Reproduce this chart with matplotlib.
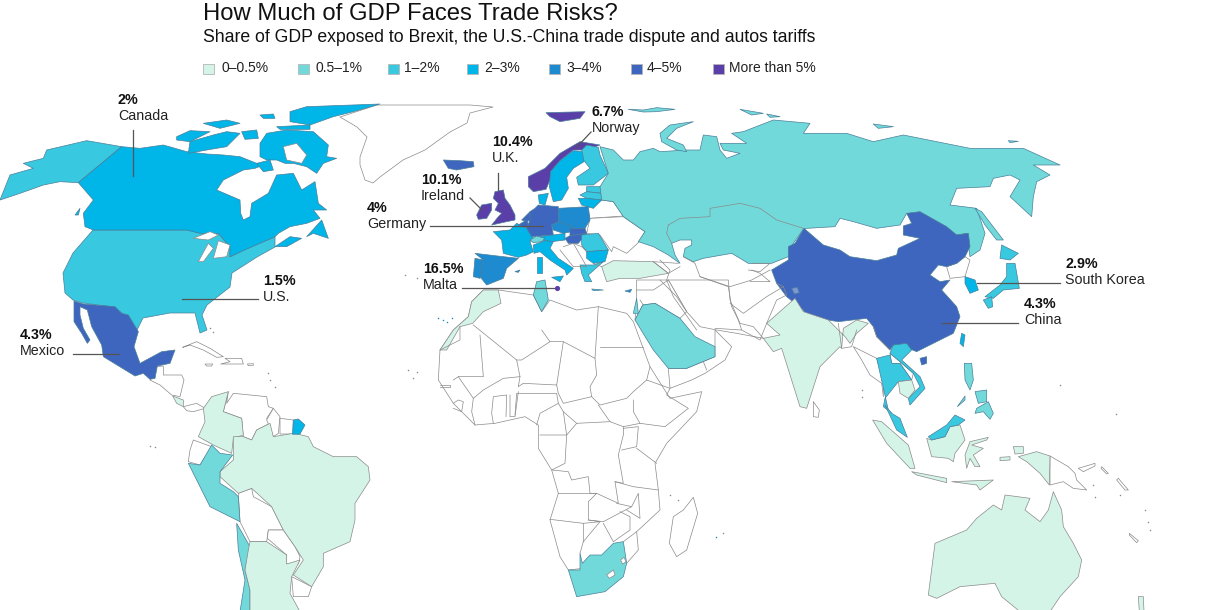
import matplotlib
matplotlib.use('Agg')
import matplotlib.pyplot as plt
from matplotlib.patches import Polygon, Rectangle

plt.rcParams['font.family'] = ['Liberation Sans', 'DejaVu Sans']

TITLE = 'How Much of GDP Faces Trade Risks?'
SUBTITLE = 'Share of GDP exposed to Brexit, the U.S.-China trade dispute and autos tariffs'
BIN_LABELS = ['0–0.5%', '0.5–1%', '1–2%', '2–3%', '3–4%', '4–5%', 'More than 5%']
BIN_EDGES = [0.5, 1, 2, 3, 4, 5]
BIN_COLORS = ['#D4F4E8', '#72D9DA', '#38C9E0', '#00B6E8', '#1E8BD0', '#3F66BE', '#5B3FA8']

# estimated share of GDP per country (None = no data, white)
SHARE = {
    'Canada': 2, 'US': 1.5, 'Mexico': 4.3, 'China': 4.3, 'Taiwan': 2.5, 'SouthKorea': 2.9, 'Japan': 1.7,
    'Russia': 0.8, 'India': 0.3, 'Turkey': 0.4, 'Saudi': 0.8, 'Morocco': 0.4, 'Tunisia': 0.8, 'SouthAfrica': 0.8,
    'Israel': 0.8, 'Norway': 6.7, 'UK': 10.4, 'Ireland': 10.1, 'Iceland': 4.5, 'Germany': 4, 'Malta': 16.5,
    'Sweden': 2.5, 'Finland': 1.5, 'Denmark': 2.5, 'Estonia': 1.5, 'Latvia': 1.5, 'Lithuania': 2.5,
    'Netherlands': 4.5, 'Belgium': 4.5, 'Poland': 3.5, 'Czechia': 3.5, 'Slovakia': 4.5, 'Hungary': 4.5,
    'Austria': 2.5, 'France': 2.5, 'Switzerland': 0.8, 'Spain': 3.5, 'Portugal': 3.5, 'Italy': 2.5,
    'Romania': 1.5, 'Bulgaria': 2.5, 'Greece': 1.5, 'Cyprus': 3.5, 'Thailand': 1.5, 'Vietnam': 1.5,
    'Cambodia': 0.3, 'Malaysia': 1.8, 'Philippines': 0.8, 'Indonesia': 0.3, 'Australia': 0.3, 'NewZealand': 0.3,
    'Brazil': 0.3, 'Colombia': 0.3, 'Peru': 0.8, 'Chile': 0.8, 'Argentina': 0.3, 'CostaRica': 0.3,
    'FrenchGuiana': 2.5,
}
ANNOTATIONS = [
    ('2%', 'Canada', 118, 100), ('1.5%', 'U.S.', 263, 281), ('4.3%', 'Mexico', 20, 335),
    ('10.4%', 'U.K.', 492, 142), ('6.7%', 'Norway', 592, 112), ('10.1%', 'Ireland', 421, 180),
    ('4%', 'Germany', 367, 208), ('16.5%', 'Malta', 423, 269), ('2.9%', 'South Korea', 1065, 264),
    ('4.3%', 'China', 1024, 304),
]
LEADERS = [[(133, 130), (133, 176)], [(182, 299), (258, 299)], [(73, 354), (119, 354)],
           [(430, 226), (543, 226)], [(462, 288), (557, 288)], [(470, 198), (482, 210)],
           [(498, 173), (498, 190)], [(591, 132), (577, 147)], [(977, 283), (1060, 283)],
           [(942, 323), (1018, 323)]]
LEGEND_SQ = [203, 298, 388, 467, 549, 631, 713]
LEGEND_TX = [221, 315, 404, 484, 566, 647, 729]

# coordinate frames of the traced outlines: (origin x, origin y, scale)
F = {'P': (0, 0, 1), 'A': (0, 0, 3), 'B': (360, 90, 3), 'C': (660, 100, 3), 'D': (0, 290, 3),
     'E': (420, 280, 3), 'F': (820, 330, 3), 'G': (470, 170, 3)}

SHAPES = [
 # --- white land
 ('Greenland','P',[(377,105),(420,105),(470,105),(493,107),(470,113),(467,123),(450,132),(425,150),(403,160),(380,177),(373,183),(365,180),(360,165),(360,157),(367,137),(357,127),(340,117)]),
 ('Cuba','D',[(548,172),(590,155),(630,175),(670,200),(650,202),(610,180),(570,165)]),
 ('Hispaniola','D',[(675,205),(725,205),(730,222),(695,222),(662,222),(690,215)]),
 ('Jamaica','D',[(615,222),(638,222),(635,228),(620,228)]),
 ('PuertoRico','D',[(742,222),(760,221),(760,226),(745,227)]),
 ('Guatemala','D',[(450,270),(470,230),(490,228),(490,255),(545,255),(552,270),(540,320),(515,315),(480,285)]),
 ('Panama','D',[(550,350),(590,340),(615,355),(580,365),(560,362)]),
 ('Venezuela','D',[(685,305),(680,340),(700,310),(800,320),(805,350),(820,355),(800,385),(810,400),(770,420),(755,450),(730,440),(725,385),(670,365)]),
 ('Guyana','D',[(820,355),(840,380),(835,430),(820,440),(800,390)]),
 ('Suriname','D',[(840,385),(880,390),(878,432),(840,432)]),
 ('Ecuador','D',[(570,480),(580,450),(635,470),(600,525),(565,515)]),
 ('Bolivia','D',[(715,610),(755,595),(760,620),(815,650),(850,720),(805,720),(800,755),(750,755),(720,695)]),
 ('Paraguay','D',[(805,720),(850,720),(885,770),(900,800),(895,822),(860,822),(860,795),(802,745)]),
 ('Uruguay','D',[(875,860),(935,890),(925,920),(880,920)]),
 ('Africa','E',[(60,210),(55,300),(100,370),(165,435),(225,430),(315,410),(355,435),(355,505),(395,570),(415,640),(390,720),(420,830),(445,870),(620,850),(655,810),(650,755),(720,690),(715,630),(705,550),(740,490),(830,395),(845,335),(750,355),(715,300),(690,260),(640,125),(620,100),(535,80),(470,90),(390,60),(365,95),(340,45),(235,30),(190,30),(155,65),(145,110),(100,150)]),
 ('Madagascar','E',[(820,652),(833,700),(800,810),(770,830),(748,790),(760,710),(790,690)]),
 ('Arabia','E',[(745,265),(750,325),(815,300),(855,280),(915,240),(935,200),(905,170),(885,150),(885,230),(800,265)]),
 ('Iran','E',[(800,95),(840,140),(890,150),(950,160),(1030,175),(1000,140),(960,130),(930,60),(925,0),(745,0)]),
 ('Levant','E',[(645,120),(668,75),(705,70),(780,115),(800,95),(745,0),(650,0),(650,55)]),
 ('Myanmar','F',[(100,50),(170,85),(190,150),(190,200),(185,160),(150,135),(125,90)]),
 ('Laos','F',[(210,70),(240,95),(280,130),(275,150),(240,100),(215,100)]),
 ('NKorea','C',[(890,490),(915,470),(930,480),(915,530),(870,535),(860,500)]),
 ('SriLanka','E',[(1180,365),(1198,390),(1195,412),(1180,410)]),
 ('PNG','F',[(690,378),(745,410),(765,430),(770,450),(800,480),(760,475),(730,455),(690,465)]),
 ('NewBritain','F',[(775,415),(825,400),(825,408),(790,425)]),
 ('Solomon1','F',[(845,410),(865,430),(860,432),(843,415)]),
 ('Solomon2','F',[(895,445),(925,480),(915,480),(890,450)]),
 ('NewCaledonia','F',[(928,610),(955,632),(950,638),(928,615)]),
 ('Belarus','B',[(725,330),(760,335),(790,378),(690,385),(680,350)]),
 ('Ukraine','B',[(690,385),(790,380),(855,425),(835,458),(800,490),(760,470),(755,485),(720,435),(680,430)]),
 # --- coloured countries
 ('US','P',[(93,230),(187,230),(200,233),(218,233),(230,247),(230,257),(248,248),(275,237),(275,247),(257,257),(232,273),(230,287),(207,305),(202,315),(207,330),(200,333),(195,313),(170,313),(143,318),(137,330),(122,313),(113,307),(83,303),(73,300),(65,293),(63,273),(73,253)]),
 ('Alaska:US','A',[(365,440),(260,422),(140,450),(130,475),(70,490),(100,505),(30,525),(20,550),(0,600),(60,580),(130,555),(180,545),(235,548)]),
 ('Canada','A',[(365,440),(420,445),(490,435),(560,455),(620,462),(670,465),(720,470),(770,490),(790,495),(765,505),(730,510),(670,540),(650,570),(720,600),(722,640),(730,660),(750,650),(755,610),(805,580),(830,525),(880,520),(905,570),(945,545),(955,610),(980,630),(940,630),(960,655),(920,670),(870,680),(835,700),(825,710),(745,745),(690,770),(690,740),(655,700),(600,700),(560,690),(280,690),(255,680),(250,640),(280,600),(235,548)]),
 ('Canada','A',[(530,410),(570,392),(630,395),(610,405),(570,425),(530,420)]),
 ('Canada','A',[(570,425),(640,405),(680,395),(720,400),(700,420),(680,440),(620,450),(565,460)]),
 ('Canada','A',[(780,430),(800,400),(860,390),(940,395),(985,435),(980,470),(1010,475),(970,490),(950,520),(920,500),(880,490),(855,490),(830,480),(800,480),(780,470)]),
 ('Canada','A',[(870,335),(920,320),(1140,312),(1060,335),(1000,350),(930,375),(870,365)]),
 ('Canada','A',[(610,370),(680,360),(720,370),(660,385)]),
 ('Canada','A',[(780,345),(820,342),(825,355),(790,355)]),
 ('Canada','A',[(830,380),(930,375),(930,388),(840,388)]),
 ('Canada','A',[(725,395),(770,390),(775,415),(735,418)]),
 ('Canada','A',[(770,490),(810,480),(820,510),(790,515)]),
 ('Canada','A',[(870,710),(905,715),(860,740),(825,740)]),
 ('Canada','A',[(920,710),(965,660),(985,715),(940,700)]),
 ('Canada','A',[(225,645),(240,625),(235,645)]),
 ('Mexico','D',[(222,33),(250,42),(345,50),(365,70),(385,75),(415,125),(402,170),(420,220),(485,185),(525,180),(510,220),(472,228),(465,265),(450,268),(430,250),(405,258),(310,200),(305,165),(275,110),(262,60),(240,50),(240,75),(250,115),(270,150),(262,160),(245,130),(222,95)]),
 ('CostaRica','D',[(518,318),(550,330),(550,350),(530,340)]),
 ('Colombia','D',[(610,355),(635,320),(685,305),(670,365),(725,385),(730,435),(700,445),(695,490),(640,465),(595,440),(615,395)]),
 ('Brazil','D',[(700,440),(730,440),(755,450),(770,420),(810,400),(820,440),(880,430),(905,435),(925,440),(940,470),(1000,500),(1070,500),(1105,530),(1110,570),(1065,640),(1065,690),(1050,755),(970,790),(970,830),(935,890),(880,855),(910,810),(885,770),(850,720),(815,650),(755,595),(715,610),(660,560),(660,545),(700,510)]),
 ('Peru','D',[(565,520),(600,525),(635,465),(660,490),(698,495),(660,545),(660,580),(700,605),(715,620),(720,695),(630,650),(590,570)]),
 ('Chile','D',[(710,700),(750,770),(735,840),(750,900),(750,965),(720,965),(735,870),(715,780)]),
 ('Argentina','D',[(750,755),(800,755),(860,795),(860,822),(900,810),(875,860),(870,910),(900,965),(750,965),(750,900),(735,840),(745,780)]),
 ('FrenchGuiana','D',[(880,390),(895,387),(915,405),(900,432),(878,433)]),
 ('Iceland','B',[(250,210),(300,212),(340,215),(342,230),(290,240),(265,235)]),
 ('Norway','B',[(558,68),(675,65),(660,85),(600,95),(570,80)]),
 ('Norway','B',[(505,260),(555,235),(600,190),(660,155),(720,165),(680,180),(640,180),(600,212),(572,245),(570,270),(558,298),(520,305),(505,290)]),
 ('Sweden','B',[(572,245),(600,212),(640,182),(668,185),(672,215),(640,235),(620,262),(625,295),(605,330),(580,335),(568,290)]),
 ('Finland','B',[(665,180),(680,165),(715,172),(720,195),(745,250),(700,285),(655,285),(650,262),(690,235),(672,212)]),
 ('Denmark','G',[(205,75),(235,70),(225,105),(208,100)]),
 ('Estonia','B',[(680,290),(720,290),(725,310),(680,305)]),
 ('Latvia','B',[(660,315),(680,305),(725,310),(725,330),(680,325)]),
 ('Lithuania','B',[(655,325),(680,325),(725,330),(700,355),(665,345)]),
 ('UK','G',[(75,65),(100,60),(105,85),(120,105),(135,135),(135,150),(110,155),(65,165),(85,140),(95,130),(75,120),(85,100),(70,85)]),
 ('Ireland','G',[(20,135),(35,105),(65,100),(65,120),(50,145),(25,148)]),
 ('France','G',[(70,185),(120,180),(140,160),(175,178),(190,205),(180,215),(190,245),(170,255),(145,262),(100,250),(95,210)]),
 ('Netherlands','G',[(155,150),(180,125),(182,150),(170,155)]),
 ('Belgium','G',[(145,165),(170,150),(180,175),(160,170)]),
 ('Germany','G',[(195,115),(205,105),(265,110),(265,155),(245,165),(250,195),(185,200),(170,175),(180,150),(180,125)]),
 ('Poland','G',[(265,115),(355,110),(360,150),(345,175),(300,175),(265,155)]),
 ('Czechia','G',[(245,165),(265,155),(310,170),(305,185),(280,190),(250,180)]),
 ('Slovakia','G',[(300,175),(345,175),(350,190),(300,197)]),
 ('Hungary','G',[(285,205),(300,197),(350,190),(325,220),(295,220)]),
 ('Austria','G',[(205,200),(250,195),(285,190),(285,210),(245,215),(215,210)]),
 ('Switzerland','G',[(180,210),(200,198),(225,205),(215,215),(190,218)]),
 ('Spain','G',[(15,250),(100,260),(145,265),(110,295),(100,325),(50,345),(30,320),(40,270)]),
 ('Portugal','G',[(15,265),(40,270),(30,325),(10,320)]),
 ('Italy','G',[(190,225),(225,212),(250,215),(240,235),(265,265),(310,295),(290,315),(285,300),(240,270),(210,245),(192,250)]),
 ('Italy','G',[(245,322),(280,318),(270,335)]),
 ('Italy','G',[(202,260),(216,260),(216,310),(202,310)]),
 ('Romania','G',[(335,195),(385,190),(415,240),(350,245),(335,225)]),
 ('Bulgaria','G',[(350,245),(415,240),(405,275),(370,280),(350,265)]),
 ('Greece','G',[(330,285),(370,285),(400,275),(355,315),(365,335),(345,335),(335,310)]),
 ('Cyprus','B',[(795,603),(815,598),(810,607)]),
 ('Greece','B',[(695,597),(730,600),(700,602)]),
 ('Spain','B',[(465,545),(480,540),(475,547)]),
 ('Turkey','B',[(725,530),(760,512),(880,515),(925,550),(840,565),(780,565),(740,575)]),
 ('Morocco','E',[(190,30),(235,30),(243,70),(190,95),(158,130),(120,140),(80,210),(60,210),(100,150),(145,110),(155,65)]),
 ('Tunisia','E',[(350,5),(375,0),(385,60),(365,95),(340,45)]),
 ('Israel','E',[(640,100),(650,55),(655,100)]),
 ('Saudi','E',[(668,75),(705,70),(780,115),(825,170),(885,200),(885,230),(800,265),(745,265),(700,210),(645,120)]),
 ('SouthAfrica','E',[(480,820),(487,850),(510,825),(545,825),(580,790),(610,785),(620,850),(610,890),(555,935),(470,950),(445,870),(480,870)]),
 ('Russia','C',[(-180,140),(-140,150),(-110,180),(-80,180),(-60,155),(-20,145),(0,155),(80,150),(120,150),(130,105),(170,110),(180,150),(200,175),(240,160),(190,150),(180,130),(260,130),(215,100),(250,95),(340,60),(450,70),(430,100),(560,100),(640,125),(730,105),(930,145),(1090,145),(1200,195),(1120,195),(1170,225),(1130,245),(1120,290),(1115,350),(1050,290),(1080,240),(1050,225),(1000,235),(990,260),(890,265),(870,315),(950,325),(975,400),(960,450),(930,470),(920,400),(890,405),(780,340),(740,340),(720,375),(650,385),(580,365),(540,355),(525,380),(440,385),(432,385),(400,430),(385,470),(335,490),(265,490),(215,460),(130,475),(100,485),(70,470),(75,445),(95,435),(95,420),(60,420),(35,430),(45,465),(60,490),(25,465),(-20,440),(-65,425),(-45,395),(-110,350),(-140,305),(-175,300),(-180,260),(-155,220)]),
 ('Russia','C',[(945,325),(965,335),(1030,420),(1010,420),(975,375)]),
 ('Russia','C',[(0,100),(30,75),(100,65),(50,85),(20,115),(70,135),(80,155),(50,150),(5,125)]),
 ('Russia','C',[(240,28),(310,40),(275,45)]),
 ('Russia','C',[(320,42),(360,50),(330,52)]),
 ('Russia','C',[(640,72),(700,80),(655,85)]),
 ('Russia','C',[(1045,122),(1075,124),(1050,128)]),
 ('Russia','B',[(805,58),(850,60),(890,53),(945,58),(890,65),(850,66)]),
 ('China','C',[(335,510),(385,480),(385,440),(405,430),(432,385),(490,435),(540,450),(570,470),(650,482),(710,465),(715,445),(780,415),(730,405),(730,378),(755,370),(740,340),(780,335),(860,380),(890,405),(925,400),(930,440),(915,470),(890,490),(860,500),(835,495),(810,525),(840,545),(870,540),(845,570),(890,620),(900,650),(880,700),(790,745),(770,755),(745,745),(700,735),(690,750),(650,710),(640,680),(620,655),(535,665),(440,650),(430,630),(380,590),(350,550)]),
 ('China','C',[(780,775),(800,770),(800,790),(785,795)]),
 ('AksaiChin','C',[(395,565),(412,562),(418,578),(403,582)]),
 ('Taiwan','C',[(905,700),(915,705),(910,740),(900,730)]),
 ('SouthKorea','C',[(915,530),(945,540),(955,570),(930,580),(915,550)]),
 ('Japan','C',[(1040,490),(1065,490),(1078,565),(1030,570),(1000,595),(975,590),(1020,555),(1040,530)]),
 ('Japan','C',[(970,600),(995,590),(998,620),(985,625)]),
 ('Japan','C',[(1025,435),(1075,460),(1050,480),(1020,475)]),
 ('India','E',[(1125,55),(1040,130),(1080,165),(1030,175),(1060,215),(1085,205),(1140,380),(1160,385),(1200,260),(1260,200),(1265,205),(1270,145),(1310,120),(1345,130),(1310,160),(1290,190),(1275,170),(1225,120),(1150,95)]),
 ('Thailand','F',[(170,85),(210,75),(215,100),(240,100),(275,150),(235,155),(215,180),(195,205),(190,230),(215,250),(205,240)]),
 ('Vietnam','F',[(220,45),(260,40),(275,60),(245,90),(300,140),(315,175),(270,225),(265,205),(300,170),(280,130),(240,95),(210,70)]),
 ('Cambodia','F',[(235,155),(275,150),(285,180),(265,205),(240,190)]),
 ('Malaysia','F',[(195,225),(215,250),(240,265),(262,322),(230,300)]),
 ('Indonesia','F',[(320,325),(335,330),(375,320),(390,290),(420,285),(435,330),(405,370),(400,395),(385,385),(335,380)]),
 ('Malaysia','F',[(325,320),(380,285),(405,255),(435,270),(415,285),(390,290),(375,320),(335,330)]),
 ('Philippines','F',[(433,100),(455,100),(460,150),(450,180),(435,150)]),
 ('Philippines','F',[(470,235),(505,215),(520,250),(510,268),(490,245),(465,250)]),
 ('Philippines','F',[(465,185),(500,180),(500,215),(475,220)]),
 ('Philippines','F',[(412,230),(435,198),(435,210)]),
 ('Indonesia','F',[(158,270),(185,275),(265,345),(285,415),(270,415),(200,340)]),
 ('Indonesia','F',[(275,425),(380,445),(380,458),(290,435)]),
 ('Indonesia','F',[(395,455),(520,450),(480,480),(470,465)]),
 ('Indonesia','F',[(435,375),(450,335),(505,322),(500,330),(455,345),(490,355),(460,375),(480,410),(465,410),(450,385),(440,415)]),
 ('Indonesia','F',[(595,380),(650,365),(690,378),(688,465),(660,430),(620,395)]),
 ('Indonesia','F',[(580,350),(610,350),(610,370),(585,372)]),
 ('Indonesia','F',[(540,382),(570,380),(570,390),(540,392)]),
 ('Australia','F',[(325,795),(345,640),(440,600),(470,565),(520,525),(545,540),(555,495),(630,505),(615,540),(660,575),(685,540),(700,485),(725,540),(730,590),(760,640),(785,690),(775,740),(720,800),(690,845),(600,845),(545,800),(525,760),(420,770),(350,805)]),
 ('NewZealand','F',[(955,800),(970,800),(972,845),(958,845)]),
 # --- holes and lakes
 ('Lake','A',[(580,715),(630,695),(655,705),(625,720)]),
 ('Lake','A',[(595,785),(625,730),(640,745),(610,785)]),
 ('Lake','A',[(655,722),(690,735),(680,770),(640,775)]),
 ('Lake','A',[(850,440),(890,430),(920,465),(905,490),(860,480)]),
 ('Lake','E',[(560,885),(580,870),(585,885),(568,895)]),
 ('Lake','E',[(602,840),(612,832),(618,845),(608,852)]),
]

BORDERS = [
 ('E',[(160,135),(290,240),(305,240),(390,185),(365,150)]),
 ('E',[(120,140),(120,180),(60,210)]), ('E',[(180,165),(190,290),(115,290),(100,300)]),
 ('E',[(290,240),(300,290),(250,295),(190,330),(160,355),(115,290)]),
 ('E',[(300,290),(295,320),(310,310),(410,315),(430,185),(390,185)]),
 ('E',[(430,185),(525,235),(535,80)]), ('E',[(540,200),(670,200)]),
 ('E',[(525,235),(530,285),(510,320),(515,350),(430,370),(415,340),(410,315)]),
 ('E',[(515,350),(540,375),(620,355),(640,335),(680,300),(690,260)]),
 ('E',[(680,300),(750,325),(740,345),(805,385),(735,440),(660,430),(640,395),(640,360)]),
 ('E',[(535,375),(570,425),(610,440),(660,430)]), ('E',[(430,395),(470,430),(570,425)]),
 ('E',[(285,405),(290,340),(410,340),(415,370),(360,400),(350,435)]),
 ('E',[(415,370),(430,395),(440,465),(360,465)]),
 ('E',[(470,430),(440,465),(435,550),(395,570),(445,575),(455,600),(505,590),(510,640),(530,640),(595,670),(585,605),(610,610),(595,525),(610,465),(610,440)]),
 ('E',[(610,445),(655,440),(650,500),(605,510)]), ('E',[(650,505),(710,550)]),
 ('E',[(585,605),(640,620),(715,630)]),
 ('E',[(415,640),(530,640),(505,665),(505,720),(540,725),(490,730),(390,718)]),
 ('E',[(505,720),(550,725),(635,680),(590,670)]), ('E',[(635,680),(655,640),(660,715),(620,690)]),
 ('E',[(550,730),(580,785)]), ('E',[(580,785),(630,750),(630,710),(600,695)]),
 ('E',[(490,730),(490,785),(480,820)]), ('E',[(490,785),(540,725)]), ('E',[(610,785),(650,755)]),
 ('E',[(220,430),(215,400),(220,350),(260,345),(258,410)]), ('E',[(270,345),(270,410),(285,410),(295,335)]),
 ('E',[(100,370),(115,360),(130,365),(125,395),(100,385)]), ('E',[(160,355),(155,395),(165,435)]),
 ('E',[(60,315),(90,315),(90,322),(60,322)]),
 ('E',[(850,245),(860,270)]), ('E',[(650,30),(700,30),(745,0)]), ('E',[(660,60),(670,75)]),
 ('E',[(720,0),(770,50),(800,95)]),
 ('C',[(25,375),(60,355),(150,350),(150,325),(240,310),(300,325),(350,360),(430,385)]),
 ('C',[(25,375),(20,400),(30,420),(35,430)]),
 ('C',[(0,480),(30,510),(20,540),(40,590),(75,640),(110,690)]),
 ('C',[(70,470),(105,490),(120,530),(210,560),(275,540),(330,510)]),
 ('C',[(120,530),(205,560),(215,620),(235,660),(245,690),(165,685)]),
 ('C',[(210,610),(250,640),(320,590),(370,560),(380,585),(350,600),(320,670)]),
 ('C',[(275,490),(330,490),(300,515),(265,510)]), ('C',[(275,510),(300,520),(330,545),(270,545)]),
 ('C',[(350,550),(370,560)]), ('C',[(535,670),(545,745),(575,740),(590,690)]),
 ('C',[(640,680),(650,710),(690,750)]), ('C',[(245,690),(300,720),(320,670)]),
 ('B',[(640,460),(680,530),(660,530)]), ('B',[(610,470),(640,460),(665,470),(680,485)]),
 ('B',[(600,480),(640,530),(660,530)]), ('B',[(700,520),(725,530)]),
 ('B',[(880,515),(925,550),(960,530)]), ('B',[(880,515),(955,520)]),
]
ISLETS = [
 ('#888888',[(405,275),(417,278),(408,370),(413,378),(417,372),(268,373),(270,380),(275,387),(210,328),(213,332),(150,446),(155,447),(670,495),(678,500),(723,533),(1060,385),(1116,414),(862,390),(862,397),(1145,510),(1148,522),(1150,530),(1093,485),(1095,497),(1120,495)]),
 ('#1E8BD0',[(438,318),(443,320),(447,322),(452,318),(716,537)]),
]
AKSAI_COLOR = '#7F97D2'

def color_of(name):
    key = name.split(':')[-1]
    if key == 'AksaiChin':
        return AKSAI_COLOR
    if key not in SHARE:
        return 'white'
    v = SHARE[key]
    for i, e in enumerate(BIN_EDGES):
        if v < e:
            return BIN_COLORS[i]
    return BIN_COLORS[-1]

fig = plt.figure(figsize=(12.2, 6.1), dpi=100, facecolor='white')
ax = fig.add_axes([0, 0, 1, 1])
ax.set_xlim(0, 1220); ax.set_ylim(610, 0); ax.axis('off')

def px(frame, pts):
    ox, oy, s = F[frame]
    return [(ox + x / s, oy + y / s) for x, y in pts]

for name, frame, pts in SHAPES:
    c = color_of(name)
    edge = '#8A8A8A' if c == 'white' or c == BIN_COLORS[0] else '#4A7F9A'
    z = 1.9 if name == 'US' else 2
    ax.add_patch(Polygon(px(frame, pts), closed=True, facecolor=c, edgecolor=edge, lw=0.5, joinstyle='round', zorder=z))

for frame, pts in BORDERS:
    xs, ys = zip(*px(frame, pts))
    ax.plot(xs, ys, color='#8A8A8A', lw=0.5, zorder=3, solid_joinstyle='round')

for col, pts in ISLETS:
    xs, ys = zip(*pts)
    ax.scatter(xs, ys, s=1.2, color=col, linewidths=0, zorder=3)

for seg in LEADERS:
    xs, ys = zip(*seg)
    ax.plot(xs, ys, color='#555555', lw=0.9, zorder=4)
ax.scatter([557], [288], s=14, color=BIN_COLORS[-1], zorder=5, linewidths=0)

for val, lab, x, y in ANNOTATIONS:
    ax.text(x, y, val, fontsize=10.3, fontweight='bold', color='#111111', va='center', ha='left', zorder=6)
    ax.text(x, y + 16, lab, fontsize=10.3, color='#222222', va='center', ha='left', zorder=6)

ax.text(203, 20, TITLE, fontsize=17.2, color='#111111', va='baseline', ha='left')
ax.text(203, 42, SUBTITLE, fontsize=12.7, color='#111111', va='baseline', ha='left')
for sx, tx, col, lab in zip(LEGEND_SQ, LEGEND_TX, BIN_COLORS, BIN_LABELS):
    ax.add_patch(Rectangle((sx, 63.5), 10.5, 10.5, facecolor=col, edgecolor='#B5B5B5', lw=0.6))
    ax.text(tx, 68.5, lab, fontsize=10, color='#222222', va='center', ha='left')

fig.savefig('out.png', dpi=100)
